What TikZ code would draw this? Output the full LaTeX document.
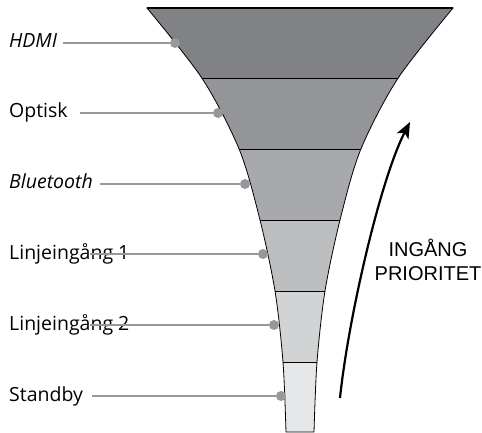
\documentclass[tikz,border=0pt]{standalone}
\usepackage{fontspec}
\setmainfont{Open Sans}
\newfontfamily\prioFont{Liberation Sans}
\usetikzlibrary{arrows.meta, positioning}
\definecolor{BandA}{RGB}{128,130,133}
\definecolor{BandB}{RGB}{147,149,152}
\definecolor{BandC}{RGB}{167,169,172}
\definecolor{BandD}{RGB}{188,190,192}
\definecolor{BandE}{RGB}{209,211,212}
\definecolor{BandF}{RGB}{230,231,232}
\definecolor{LeadGray}{RGB}{150,152,155}
\tikzset{
  lbl/.style={anchor=base west, inner sep=0pt, font=\fontsize{19.5}{23}\selectfont},
  lead/.style={LeadGray, line width=2.2pt},
  dot/.style={circle, fill=LeadGray, inner sep=0pt, minimum size=10pt},
  prio/.style={anchor=base, inner sep=0pt, font=\prioFont\fontsize{20}{24}\selectfont},
}
\def\funnel{plot[smooth] coordinates {(147,8) (202.5,79) (239.5,150) (260,220) (275,291) (283,362) (286,432)}
  -- plot[smooth] coordinates {(314,432) (317,362) (325,291) (340,220) (360.5,150) (397.5,79) (453,8)} -- cycle}

\begin{document}
\begin{tikzpicture}[x=1pt, y=-1pt]
        \useasboundingbox (0,0) rectangle (482,433);
        \begin{scope}
          \clip \funnel;
          \foreach \ya/\yb/\c in {8/79/BandA,79/150/BandB,150/220/BandC,220/291/BandD,291/362/BandE,362/432/BandF}{
            \fill[\c] (140,\ya) rectangle (460,\yb);
          }
          \foreach \y in {79,150,220,291,362}
            \draw[line width=1pt] (140,\y) -- (460,\y);
        \end{scope}
        \draw[line width=0.8pt] \funnel;
        \draw[line width=1.8pt] (147,8) -- (453,8);
        \node[lbl] (hdmi) at (9,48) {\textit{HDMI}};
        \node[lbl] (optisk) at (9,118) {Optisk};
        \node[lbl] (bt) at (9,189) {\textit{Bluetooth}};
        \node[lbl] (linje1) at (9,259) {Linjeingång 1};
        \node[lbl] (linje2) at (9,330) {Linjeingång 2};
        \node[lbl] (standby) at (9,401) {Standby};
        \foreach \n/\sx/\dx/\y in {hdmi/63/175/43,optisk/80/218/113,bt/100/245/184,
                                   linje1/90/263/254,linje2/90/274/325,standby/92/281/396}{
          \coordinate (\n-s) at (\sx,\y);
          \node[dot] (\n-d) at (\dx,\y) {};
          \draw[lead] (\n-s) -- (\n-d);
        }
        \coordinate (arrS) at (340,398);
        \coordinate (arrE) at (410,122);
        \draw[line width=2.2pt,-{Stealth[length=16pt,width=13pt,inset=4pt]}]
          (arrS) .. controls (348,320) and (380,180) .. (arrE);
        \node[prio] (ingang) at (428,256) {INGÅNG};
        \node[prio] (prioritet) at (428,280) {PRIORITET};
      \end{tikzpicture}
\end{document}
